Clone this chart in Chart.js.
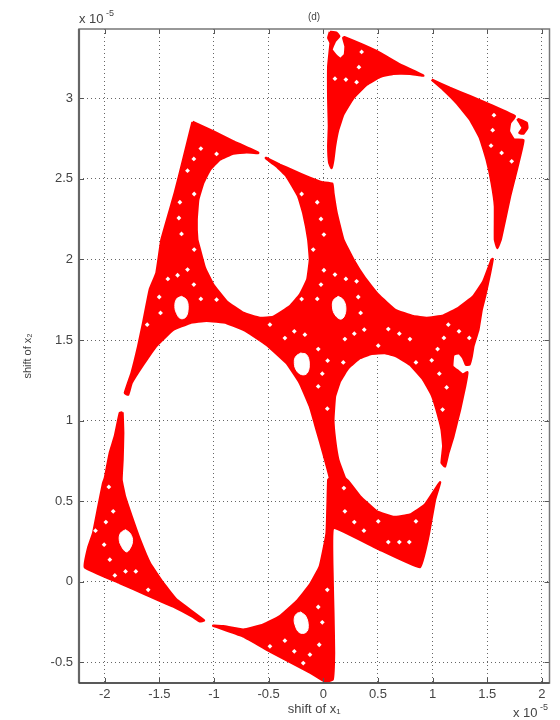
<!DOCTYPE html>
<html><head><meta charset="utf-8">
<style>html,body{margin:0;padding:0;background:#fff}#c{display:block}</style>
<script src="https://cdn.jsdelivr.net/npm/chart.js@4"></script></head>
<body><div style="width:560px;height:720px"><canvas id="c" width="560" height="720"></canvas></div>
<script>
const xTicks=[-2,-1.5,-1,-0.5,0,0.5,1,1.5,2];
const yTicks=[-0.5,0,0.5,1,1.5,2,2.5,3];
const regionTopLeft=[[.061,3.412],[.122,3.406],[.146,3.385],[.107,3.355],[.076,3.302],[.122,3.261],[.159,3.244],[.198,3.271],[.204,3.323],[.183,3.375],[.192,3.379],[.488,3.292],[.702,3.209],[.915,3.141],[.793,3.153],[.641,3.153],[.519,3.133],[.397,3.085],[.275,3.002],[.183,2.899],[.137,2.806],[.107,2.702],[.092,2.620],[.076,2.568],[.055,2.599],[.046,2.702],[.052,2.826],[.046,2.992],[.046,3.199],[.061,3.302],[.067,3.344],[.046,3.375]];
const regionTopRight=[[.992,3.116],[1.159,3.064],[1.343,3.013],[1.556,2.951],[1.754,2.888],[1.709,2.847],[1.699,2.795],[1.745,2.744],[1.831,2.740],[1.800,2.640],[1.770,2.557],[1.709,2.392],[1.663,2.247],[1.623,2.123],[1.593,2.071],[1.571,2.123],[1.571,2.330],[1.541,2.475],[1.495,2.620],[1.434,2.754],[1.343,2.868],[1.220,2.971],[1.098,3.054]];
const regionTopBlob=[[1.776,2.872],[1.861,2.847],[1.867,2.816],[1.831,2.781],[1.794,2.785],[1.825,2.816],[1.800,2.847]];
const regionCentre=[[-1.196,2.853],[-1.007,2.795],[-.824,2.733],[-.595,2.661],[-.702,2.665],[-.824,2.657],[-.946,2.620],[-1.037,2.557],[-1.098,2.475],[-1.144,2.371],[-1.159,2.247],[-1.153,2.123],[-1.129,2.061],[-1.083,1.947],[-1.007,1.844],[-.885,1.740],[-.732,1.668],[-.580,1.637],[-.458,1.643],[-.305,1.709],[-.214,1.781],[-.146,1.875],[-.122,2.000],[-.137,2.123],[-.183,2.288],[-.229,2.392],[-.336,2.516],[-.427,2.578],[-.519,2.624],[-.525,2.630],[-.397,2.587],[-.275,2.551],[-.122,2.506],[-.015,2.479],[.082,2.470],[.092,2.413],[.122,2.288],[.183,2.123],[.275,1.999],[.381,1.885],[.503,1.781],[.656,1.688],[.824,1.647],[.946,1.637],[1.098,1.651],[1.236,1.699],[1.373,1.771],[1.465,1.864],[1.541,1.999],[1.550,2.003],[1.526,1.916],[1.480,1.771],[1.449,1.688],[1.419,1.564],[1.373,1.461],[1.358,1.399],[1.337,1.347],[1.306,1.347],[1.281,1.388],[1.245,1.419],[1.190,1.409],[1.181,1.337],[1.236,1.306],[1.275,1.285],[1.318,1.299],[1.297,1.212],[1.251,1.068],[1.190,.902],[1.144,.799],[1.114,.716],[1.083,.737],[1.098,.840],[1.083,.944],[1.037,1.068],[.992,1.161],[.915,1.254],[.793,1.347],[.671,1.399],[.564,1.419],[.442,1.415],[.336,1.388],[.229,1.326],[.153,1.244],[.107,1.150],[.092,1.006],[.107,.881],[.137,.757],[.198,.643],[.229,.623],[.336,.530],[.488,.437],[.641,.401],[.793,.416],[.931,.478],[1.068,.617],[1.022,.509],[.961,.281],[.885,.091],[.488,.209],[.092,.333],[.085,.012],[.092,-.194],[.098,-.443],[.085,-.608],[.015,-.619],[-.122,-.563],[-.488,-.432],[-.732,-.339],[-1.007,-.273],[-.915,-.277],[-.732,-.298],[-.549,-.267],[-.397,-.215],[-.244,-.122],[-.122,-.019],[-.031,.095],[.031,.302],[.046,.633],[.061,.643],[0,.799],[-.061,.944],[-.122,1.088],[-.214,1.233],[-.336,1.357],[-.519,1.471],[-.702,1.554],[-.885,1.606],[-1.068,1.620],[-1.220,1.606],[-1.373,1.564],[-1.526,1.465],[-1.648,1.347],[-1.754,1.233],[-1.785,1.161],[-1.815,1.171],[-1.754,1.295],[-1.693,1.461],[-1.648,1.606],[-1.587,1.813],[-1.526,1.916],[-1.480,2.123],[-1.358,2.413],[-1.281,2.620]];
const regionLowerLeft=[[-1.837,1.051],[-1.831,.923],[-1.837,.757],[-1.846,.633],[-1.815,.530],[-1.754,.406],[-1.678,.261],[-1.587,.116],[-1.465,-.008],[-1.343,-.112],[-1.092,-.240],[-1.129,-.246],[-1.190,-.219],[-1.373,-.153],[-1.617,-.081],[-1.861,-.008],[-2.182,.091],[-2.151,.209],[-2.105,.302],[-2.060,.457],[-2.014,.612],[-1.998,.643],[-1.953,.799],[-1.907,.902],[-1.861,1.047]];
const holeA=[[-1.297,1.771],[-1.251,1.750],[-1.236,1.699],[-1.257,1.643],[-1.306,1.633],[-1.342,1.664],[-1.358,1.709],[-1.342,1.755]];
const holeB=[[-.207,1.419],[-.153,1.409],[-.128,1.357],[-.146,1.295],[-.198,1.285],[-.250,1.316],[-.265,1.368],[-.250,1.399]];
const holeC=[[.137,1.771],[.183,1.750],[.207,1.699],[.189,1.643],[.153,1.630],[.107,1.657],[.085,1.699],[.092,1.746]];
const holeD=[[-1.809,.323],[-1.764,.298],[-1.745,.250],[-1.779,.194],[-1.806,.186],[-1.846,.219],[-1.867,.261],[-1.855,.302]];
const holeE=[[-.207,-.188],[-.159,-.215],[-.137,-.277],[-.159,-.315],[-.220,-.315],[-.259,-.267],[-.265,-.226],[-.244,-.199]];
const specks=[[-1.120,2.688],[-.976,2.655],[-1.184,2.624],[-1.242,2.551],[-1.181,2.406],[-1.312,2.355],[-1.321,2.257],[-1.297,2.158],[-.198,2.406],[.351,3.288],[.326,3.193],[.107,3.122],[.207,3.116],[.305,3.100],[1.562,2.895],[1.550,2.802],[1.535,2.706],[1.632,2.661],[1.724,2.609],[-.055,2.355],[-.021,2.251],[.006,2.154],[-1.181,2.061],[-1.242,1.937],[-1.333,1.902],[-1.422,1.879],[-1.184,1.844],[-1.501,1.767],[-1.489,1.668],[-1.611,1.595],[-1.120,1.755],[-.976,1.750],[-.488,1.595],[-.351,1.512],[-.265,1.554],[-.198,1.754],[-.168,1.533],[-.092,2.061],[.006,1.933],[.107,1.906],[.207,1.879],[.305,1.864],[-.021,1.844],[-.055,1.755],[.320,1.767],[.342,1.668],[1.144,1.595],[1.242,1.554],[1.336,1.513],[.595,1.568],[.696,1.539],[.793,1.506],[.375,1.564],[.284,1.539],[.198,1.506],[.503,1.465],[1.104,1.513],[1.046,1.444],[-.046,1.444],[.040,1.372],[.183,1.361],[.848,1.361],[.992,1.374],[1.062,1.291],[-.009,1.291],[-.046,1.212],[.037,1.074],[1.129,1.206],[1.092,1.068],[-1.962,.588],[-1.922,.437],[-1.989,.370],[-2.084,.317],[-2.005,.230],[-1.953,.137],[-1.907,.039],[-1.809,.064],[-1.715,.064],[-1.602,-.050],[-.488,-.401],[-.351,-.366],[-.265,-.432],[-.183,-.505],[.189,.581],[.198,.437],[.284,.370],[.372,.317],[.503,.375],[.595,.246],[.696,.246],[.787,.246],[.848,.375],[.037,-.050],[-.046,-.157],[-.009,-.252],[-.037,-.391],[-.122,-.453]];

const closed=a=>a.concat([a[0]]).map(p=>({x:p[0],y:p[1]}));
const RED='#ff0000', WHITE='#ffffff';
const area=(a,col)=>({data:closed(a),showLine:true,fill:'shape',backgroundColor:col,borderColor:col,borderWidth:col===RED?2.5:1,borderJoinStyle:'round',pointRadius:0,tension:col===RED?0.1:0.4,order:col===RED?3:2});
const FONT='"Liberation Sans",Arial,sans-serif', TXT='#444';
const frame={id:'frame',afterDatasetsDraw(ch){
  const {ctx,chartArea:a,scales:{x,y}}=ch;
  ctx.save();
  ctx.strokeStyle='#555';ctx.lineWidth=1;
  ctx.beginPath();
  xTicks.forEach(t=>{const p=Math.round(x.getPixelForValue(t))+.5;ctx.moveTo(p,a.top);ctx.lineTo(p,a.top+5);ctx.moveTo(p,a.bottom);ctx.lineTo(p,a.bottom-5);});
  yTicks.forEach(t=>{const p=Math.round(y.getPixelForValue(t))+.5;ctx.moveTo(a.left,p);ctx.lineTo(a.left+5,p);ctx.moveTo(a.right,p);ctx.lineTo(a.right-5,p);});
  ctx.stroke();
  ctx.strokeStyle='#777';ctx.lineWidth=1.5;ctx.strokeRect(a.left,a.top,a.right-a.left,a.bottom-a.top);
  ctx.strokeStyle='#666';ctx.lineWidth=2.2;ctx.beginPath();ctx.moveTo(a.left,a.top);ctx.lineTo(a.left,a.bottom);ctx.stroke();
  ctx.strokeStyle='#444';ctx.lineWidth=1.6;ctx.beginPath();ctx.moveTo(a.left,a.bottom);ctx.lineTo(a.right,a.bottom);ctx.stroke();
  ctx.fillStyle=TXT;ctx.textBaseline='alphabetic';ctx.textAlign='left';
  ctx.font='13px '+FONT;
  ctx.fillText('x 10',79,23);ctx.fillText('x 10',513,717);
  ctx.font='9px '+FONT;
  ctx.fillText('-5',106,16);ctx.fillText('-5',540,710);
  ctx.textAlign='center';ctx.font='10px '+FONT;
  ctx.fillText('(d)',314,20);
  ctx.restore();
}};
new Chart(document.getElementById('c'),{type:'scatter',
 data:{datasets:[
  area(regionTopLeft,RED),area(regionTopRight,RED),area(regionTopBlob,RED),
  area(regionCentre,RED),area(regionLowerLeft,RED),
  area(holeA,WHITE),area(holeB,WHITE),area(holeC,WHITE),area(holeD,WHITE),area(holeE,WHITE),
  {data:specks.map(p=>({x:p[0],y:p[1]})),pointStyle:'rectRot',pointRadius:2.4,pointBackgroundColor:'#fff',pointBorderWidth:0,showLine:false,order:1}
 ]},
 plugins:[frame],
 options:{responsive:false,animation:false,
  layout:{padding:{top:29,right:10.5,left:0,bottom:0}},
  plugins:{legend:{display:false},tooltip:{enabled:false},title:{display:false}},
  scales:{
   x:{type:'linear',min:-2.235,max:2.07,
     afterBuildTicks:s=>{s.ticks=xTicks.map(v=>({value:v}));},
     afterFit:s=>{s.height=37;},
     grid:{color:'#666',lineWidth:1,drawTicks:false},
     border:{display:false,dash:[1,3]},
     ticks:{padding:4,maxRotation:0,autoSkip:false,color:TXT,font:{family:FONT,size:13},callback:v=>String(v)},
     title:{display:true,text:'shift of x₁',color:TXT,font:{family:FONT,size:13},padding:{top:0,bottom:3}}},
   y:{type:'linear',min:-0.6285,max:3.43,
     afterBuildTicks:s=>{s.ticks=yTicks.map(v=>({value:v}));},
     afterFit:s=>{s.width=79;},
     grid:{color:'#666',lineWidth:1,drawTicks:false},
     border:{display:false,dash:[1,3]},
     ticks:{padding:6,autoSkip:false,color:TXT,font:{family:FONT,size:13},callback:v=>String(v)},
     title:{display:true,text:'shift of x₂',color:TXT,font:{family:FONT,size:11},padding:{top:21,bottom:0}}}
  }}});
</script></body></html>
